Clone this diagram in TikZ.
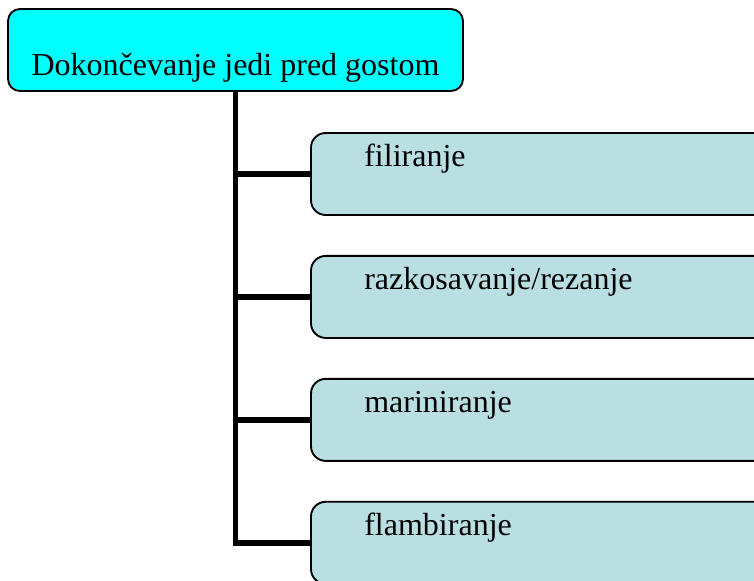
\documentclass[tikz,border=0pt]{standalone}
\usepackage{fontspec}
\setmainfont{Liberation Serif}
\usetikzlibrary{positioning}
\definecolor{headcyan}{HTML}{00FFFF}
\definecolor{leafblue}{HTML}{B9DFE3}
\tikzset{
  every picture/.style={font=\fontsize{24}{29}\selectfont},
  headbox/.style={draw=black, fill=headcyan, line width=1.4pt, rounded corners=9pt,
    minimum width=341.25pt, minimum height=61.5pt, inner sep=0pt},
  leafbox/.style={draw=black, fill=leafblue, line width=1.4pt, rounded corners=11pt,
    minimum width=360pt, minimum height=61.5pt, inner sep=0pt},
  trunk/.style={draw=black, line width=4.4pt},
  txt/.style={inner sep=0pt, anchor=base west},
}
\begin{document}
\begin{tikzpicture}[x=0.75pt, y=-0.75pt]
  \useasboundingbox (0,0) rectangle (754,581);
  \clip (0,0) rectangle (754,581);
  % head box, text sits low in it
  \node[headbox] (head) at (235.5,50) {};
  \node[inner sep=0pt, anchor=base] (headtext) at ([yshift=12pt]head.south) {Dokončevanje jedi pred gostom};
  % leaf boxes
  \node[leafbox] (fil) at (551,174) {};
  \node[leafbox, below=29.3pt of fil] (raz) {};
  \node[leafbox, below=29.3pt of raz] (mar) {};
  \node[leafbox, below=29.3pt of mar] (fla) {};
  \node[txt] at ([xshift=40.5pt, yshift=-26pt]fil.north west) {filiranje};
  \node[txt] at ([xshift=40.5pt, yshift=-26pt]raz.north west) {razkosavanje/rezanje};
  \node[txt] at ([xshift=40.5pt, yshift=-26pt]mar.north west) {mariniranje};
  \node[txt] at ([xshift=40.5pt, yshift=-26pt]fla.north west) {flambiranje};
  % connectors
  \draw[trunk] (head.south) |- (fla.west);
  \foreach \leaf in {fil, raz, mar}
    \draw[trunk] (head.south |- \leaf.west) -- (\leaf.west);
\end{tikzpicture}
\end{document}
